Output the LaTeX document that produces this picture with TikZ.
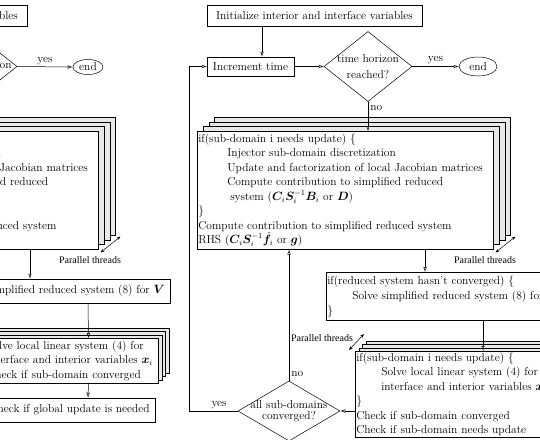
\documentclass[tikz,border=0pt]{standalone}
\usepackage{amsmath,bm}
\usepackage{fontspec}
\newfontfamily\threadfont{Liberation Serif}
\usetikzlibrary{arrows.meta,shapes.geometric,shadows}

\tikzset{
  box/.style={draw,fill=white,inner xsep=5pt,inner ysep=1pt},
  textbox/.style={draw,fill=white,align=left,inner xsep=1pt,inner ysep=2pt,anchor=north west},
  layer/.style 2 args={copy shadow={shadow xshift=#1,shadow yshift=#2,draw=black,fill=gray!18}},
  stackbig/.style={textbox,layer={17.4pt}{14.1pt},layer={11.6pt}{9.4pt},layer={5.8pt}{4.7pt}},
  stacksmall/.style={textbox,layer={11.1pt}{10.5pt},layer={7.4pt}{7pt},layer={3.7pt}{3.5pt}},
  decision/.style={diamond,draw,fill=white,align=center},
  stopnode/.style={ellipse,draw,inner sep=0pt},
  threads/.style={font=\threadfont\fontsize{10}{12}\selectfont,inner sep=0pt},
  flow/.style={-{Latex[open,length=5pt,width=3.5pt]}},
  spread/.style={{Stealth[length=4pt,width=3pt]}-{Stealth[length=4pt,width=3pt]}},
  lbl/.style={inner sep=2pt}
}

\begin{document}
\begin{tikzpicture}[x=1pt,y=-1pt,line width=0.5pt,font=\fontsize{11.5}{14.5}\selectfont]
  \useasboundingbox (0,0) rectangle (540,439);
  \clip (0,0) rectangle (540,439);

  % left chart, cut by the page edge
  \node[box,minimum width=215pt,minimum height=21pt] (linit) at (-80.5,15.5) {Initialize interior and interface variables};
  \node[decision,aspect=1.26,inner sep=-2pt,minimum width=88pt,minimum height=70pt] (lhorizon) at (-27,66.5) {\raisebox{3pt}{reached horizon}};
  \node[stopnode,minimum width=30pt,minimum height=15pt] (lend) at (88,67) {end};
  \draw[flow] (lhorizon.east) -- node[lbl,above]{yes} (lend.west);
  \node[stackbig,text width=294pt,minimum height=118pt] (lupdate) at (-198,131) {if(sub-domain i needs update) \{\\
    \hspace*{29pt}Injector sub-domain discretization\\
    \hspace*{29pt}Update and factorization of local Jacobian matrices\\
    \hspace*{29pt}Compute contribution to simplified reduced\\
    \hspace*{32pt}system ($\bm{C}_i\bm{S}_i^{-1}\bm{B}_i$ or $\bm{D}$)\\
    \}\\
    Compute contribution to simplified reduced system\\
    RHS ($\bm{C}_i\bm{S}_i^{-1}\hat{\bm{f}}_i$ or $\bm{g}$)};
  \draw[spread] ([shift={(2,3)}]lupdate.south east) -- ++(20,-16);
  \node[threads] (lpt) at (90,260) {Parallel threads};
  \node[box,anchor=east,minimum height=24pt] (lsolve) at (170,291) {Solve simplified reduced system (8) for $\bm{V}$};
  \node[stacksmall,text width=170pt,minimum height=45pt] (llocal) at (-14,338) {Solve local linear system (4) for\\
    interface and interior variables $\bm{x}_i$\\
    Check if sub-domain converged};
  \node[box,anchor=east,minimum height=24pt] (lglobal) at (155,410) {Check if global update is needed};
  \draw[flow] ([xshift=228pt]lupdate.south west) -- ([xshift=228pt]lupdate.south west |- lsolve.north);
  \draw[flow] ([xshift=-82pt]lsolve.south east) -- ([xshift=-70pt]llocal.north east);
  \draw[flow] ([xshift=-70pt]llocal.south east) -- ([xshift=-67pt]lglobal.north east);

  % right chart
  \node[box,minimum width=215pt,minimum height=21pt] (init) at (314.5,15.5) {Initialize interior and interface variables};
  \node[box,minimum width=87pt,minimum height=19pt] (incr) at (250.5,66.5) {Increment time};
  \node[decision,aspect=1.26,inner sep=-2pt,minimum width=88pt,minimum height=70pt,font=\fontsize{11.5}{16}\selectfont] (horizon) at (368,66.5) {time horizon\\reached?};
  \node[stopnode,minimum width=38pt,minimum height=19pt] (end) at (478,66.5) {end};
  \draw[flow] ([xshift=-52.5pt]init.south) -- ([xshift=11.5pt]incr.north);
  \draw[flow] (incr.east) -- (horizon.west);
  \draw[flow] (horizon.east) -- node[lbl,above]{yes} (end.west);

  % sub-domain update, one box per thread
  \node[stackbig,text width=294pt,minimum height=118pt] (update) at (197,131) {if(sub-domain i needs update) \{\\
    \hspace*{29pt}Injector sub-domain discretization\\
    \hspace*{29pt}Update and factorization of local Jacobian matrices\\
    \hspace*{29pt}Compute contribution to simplified reduced\\
    \hspace*{32pt}system ($\bm{C}_i\bm{S}_i^{-1}\bm{B}_i$ or $\bm{D}$)\\
    \}\\
    Compute contribution to simplified reduced system\\
    RHS ($\bm{C}_i\bm{S}_i^{-1}\hat{\bm{f}}_i$ or $\bm{g}$)};
  \draw[flow] (horizon.south) -- node[lbl,right,pos=0.2]{no} (horizon.south |- update.north);
  \draw[spread] ([shift={(2,3)}]update.south east) -- ++(20,-16);
  \node[threads] (pt1) at (485,260) {Parallel threads};

  \node[textbox,text width=238pt,minimum height=48pt,font=\fontsize{11.5}{15}\selectfont] (reduced) at (326,272) {if(reduced system hasn't converged) \{\\
    \hspace*{25pt}Solve simplified reduced system (8) for $\bm{V}$\\
    \}};
  \draw[flow] ([xshift=228pt]update.south west) -- ([xshift=99pt]reduced.north west);

  % local solves, one box per thread
  \node[stacksmall,text width=196pt,minimum height=86pt,inner ysep=1.5pt] (local) at (355,351) {if(sub-domain i needs update) \{\\
    \hspace*{25pt}Solve local linear system (4) for\\
    \hspace*{25pt}interface and interior variables $\bm{x}_i$\\
    \}\\
    Check if sub-domain converged\\
    Check if sub-domain needs update};
  \draw[flow] ([xshift=157pt]reduced.south west) -- ([xshift=128pt]local.north west);
  \draw[spread] ([shift={(-6,-1)}]local.north west) -- ++(15,-16);
  \node[threads] (pt2) at (322,338) {Parallel threads};

  \node[decision,aspect=1.7,inner sep=-6pt,minimum width=102pt,minimum height=60pt,font=\fontsize{11.5}{11}\selectfont] (conv) at (289,411) {all sub-domains\\converged?};
  \draw[flow] (local.west |- conv.east) -- (conv.east);
  \draw[flow] (conv.north) -- node[lbl,right,pos=0.05]{no} (conv.north |- update.south);
  \draw[flow] (conv.west) -- node[lbl,above,pos=0.38]{yes} ++(-49,0) |- (incr.west);
\end{tikzpicture}
\end{document}
